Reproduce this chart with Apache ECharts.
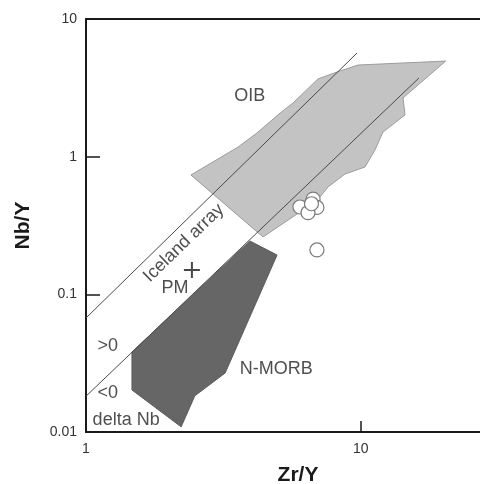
<!DOCTYPE html>
<html>
<head>
<meta charset="utf-8">
<script src="https://cdn.jsdelivr.net/npm/echarts@6/dist/echarts.min.js"></script>
<style>html,body{margin:0;padding:0;background:#fff}#c{width:480px;height:484px}</style>
</head>
<body>
<div id="c"></div>
<script>
// ---- data (Zr/Y vs Nb/Y, log-log) ----
const xTicks = [1, 10];
const yTicks = [0.01, 0.1, 1, 10];

const oibZrY = [2.41, 3.58, 4.19, 5.09, 5.67, 6.99, 8.20, 9.78, 20.4, 14.26, 14.5, 12.06, 11.27, 10.37, 8.77, 7.60, 7.11, 6.01, 4.41];
const oibNbY = [0.736, 1.175, 1.486, 2.075, 2.454, 3.67, 4.12, 4.63, 4.95, 2.67, 2.01, 1.51, 1.118, 0.841, 0.748, 0.602, 0.509, 0.396, 0.261];

const morbZrY = [1.47, 3.95, 4.96, 3.21, 2.49, 2.22, 1.47];
const morbNbY = [0.0381, 0.244, 0.193, 0.0268, 0.0183, 0.0109, 0.0202];

const upperZrY = [1, 9.70];
const upperNbY = [0.0673, 5.66];
const lowerZrY = [1, 16.3];
const lowerNbY = [0.0182, 3.73];

const sampleZrY = [6.01, 6.71, 6.93, 6.43, 6.62, 6.93];
const sampleNbY = [0.431, 0.492, 0.428, 0.392, 0.455, 0.210];

const pmZrY = [2.43];
const pmNbY = [0.150];

const labelText = ['OIB', 'Iceland array', 'PM', '>0', '<0', 'delta Nb', 'N-MORB'];
const labelZrY = [3.95, 2.27, 2.11, 1.20, 1.20, 1.40, 4.93];
const labelNbY = [2.76, 0.236, 0.111, 0.0421, 0.0192, 0.0122, 0.0285];

// ---- build ----
const zip = (a, b) => a.map((v, i) => [v, b[i]]);
function polygonSeries(pts, fill, stroke) {
  return {
    type: 'custom',
    data: pts,
    silent: true,
    renderItem: function (params, api) {
      if (params.dataIndex !== 0) return null;
      const points = pts.map(p => api.coord(p));
      return { type: 'polygon', shape: { points: points }, style: { fill: fill, stroke: stroke, lineWidth: 1 } };
    }
  };
}
const FONT = 'Liberation Sans, Arial, sans-serif';
const chart = echarts.init(document.getElementById('c'));
chart.setOption({
  animation: false,
  backgroundColor: '#fff',
  grid: { left: 86, right: 0, top: 19, bottom: 52, outerBoundsMode: 'none', containLabel: false },
  xAxis: [{
    type: 'log', logBase: 10, min: 1, max: 27.19,
    name: 'Zr/Y', nameLocation: 'middle', nameGap: 33,
    nameTextStyle: { fontSize: 21, fontWeight: 'bold', color: '#1a1a1a', fontFamily: FONT, padding: [0, 0, 0, 30] },
    axisLine: { show: true, lineStyle: { color: '#1a1a1a', width: 2 } },
    axisTick: { show: true, inside: true, length: 11, customValues: xTicks, lineStyle: { color: '#1a1a1a', width: 1.5 } },
    axisLabel: { customValues: xTicks, fontSize: 14, color: '#333', fontFamily: FONT, margin: 10 },
    splitLine: { show: false }
  }, {
    type: 'log', logBase: 10, min: 1, max: 27.19, position: 'top',
    axisLine: { show: true, lineStyle: { color: '#1a1a1a', width: 2 } },
    axisTick: { show: false }, axisLabel: { show: false }, splitLine: { show: false }
  }],
  yAxis: {
    type: 'log', logBase: 10, min: 0.01, max: 10,
    name: 'Nb/Y', nameLocation: 'middle', nameGap: 52,
    nameTextStyle: { fontSize: 21, fontWeight: 'bold', color: '#1a1a1a', fontFamily: FONT },
    axisLine: { show: true, lineStyle: { color: '#1a1a1a', width: 2 } },
    axisTick: { show: true, inside: true, length: 14, customValues: yTicks, lineStyle: { color: '#1a1a1a', width: 1.5 } },
    axisLabel: { customValues: yTicks, fontSize: 14, color: '#333', fontFamily: FONT, margin: 9 },
    splitLine: { show: false }
  },
  series: [
    polygonSeries(zip(oibZrY, oibNbY), '#c3c3c3', '#9c9c9c'),
    polygonSeries(zip(morbZrY, morbNbY), '#666666', '#5a5a5a'),
    { type: 'line', data: zip(upperZrY, upperNbY), symbol: 'none', silent: true,
      lineStyle: { color: '#4a4a4a', width: 1 } },
    { type: 'line', data: zip(lowerZrY, lowerNbY), symbol: 'none', silent: true,
      lineStyle: { color: '#4a4a4a', width: 1 } },
    { type: 'scatter', data: zip(sampleZrY, sampleNbY), symbol: 'circle', symbolSize: 14,
      itemStyle: { color: '#ffffff', borderColor: '#7a7a7a', borderWidth: 1.2, opacity: 1 } },
    { type: 'scatter', data: zip(pmZrY, pmNbY), symbol: 'path://M8 0 L8 16 M0 8 L16 8', symbolSize: 16,
      itemStyle: { color: 'none', borderColor: '#1a1a1a', borderWidth: 2 } },
    { type: 'scatter', symbolSize: 1, silent: true,
      itemStyle: { color: 'rgba(0,0,0,0)' },
      label: { show: true, position: 'inside', formatter: '{b}', fontSize: 18, color: '#222', fontFamily: FONT },
      data: labelText.map((t, i) => ({
        name: t, value: [labelZrY[i], labelNbY[i]],
        label: t === 'Iceland array' ? { rotate: 44 } : {}
      })) }
  ]
});
</script>
</body>
</html>
